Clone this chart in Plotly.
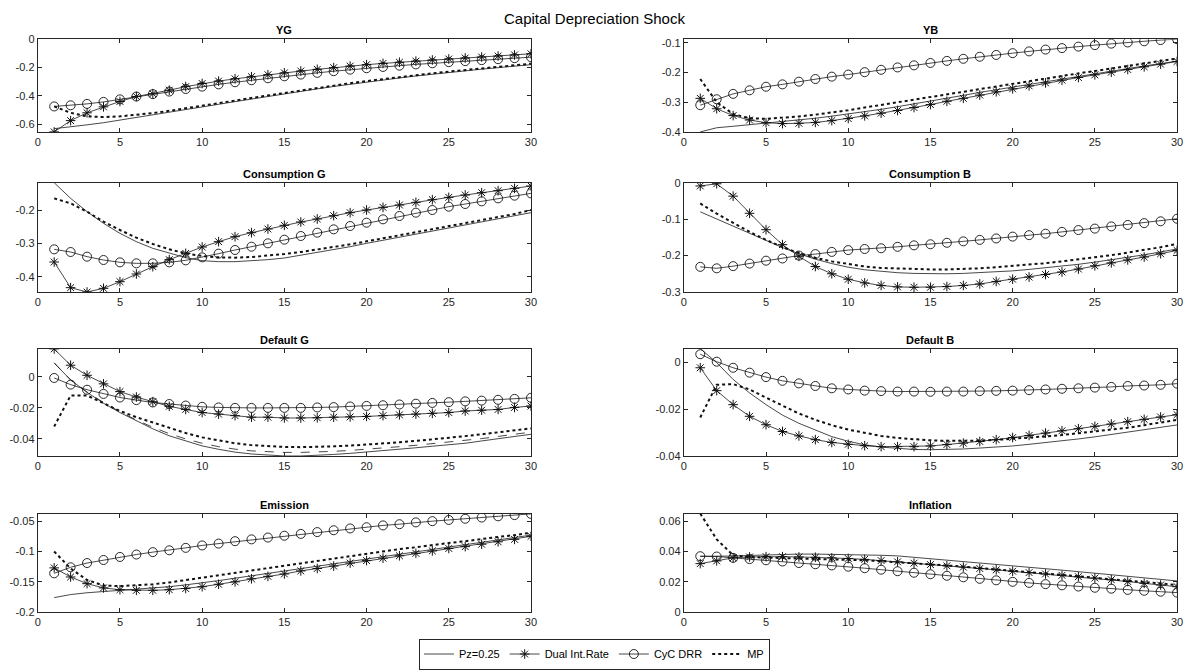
import plotly.graph_objects as go

x = list(range(1, 31))
series_names = ["Pz=0.25", "Dual Int.Rate", "CyC DRR", "MP"]
panel_titles = ["YG", "YB", "Consumption G", "Consumption B", "Default G", "Default B", "Emission", "Inflation"]

# ---- YG ----
yg_pz = [-0.632, -0.62, -0.605, -0.59, -0.572, -0.555, -0.537, -0.518, -0.499, -0.48, -0.46, -0.441, -0.422, -0.404, -0.386,
         -0.368, -0.351, -0.334, -0.318, -0.302, -0.288, -0.274, -0.26, -0.247, -0.235, -0.223, -0.212, -0.201, -0.19, -0.18]
yg_dual = [-0.655, -0.575, -0.52, -0.478, -0.44, -0.405, -0.385, -0.36, -0.335, -0.313, -0.296, -0.28, -0.265, -0.251, -0.238,
           -0.225, -0.213, -0.201, -0.19, -0.18, -0.171, -0.163, -0.155, -0.147, -0.14, -0.133, -0.126, -0.119, -0.111, -0.103]
yg_cyc = [-0.475, -0.467, -0.457, -0.443, -0.425, -0.405, -0.388, -0.37, -0.352, -0.335, -0.319, -0.304, -0.29, -0.276, -0.262,
          -0.25, -0.238, -0.226, -0.215, -0.205, -0.196, -0.187, -0.178, -0.17, -0.162, -0.155, -0.148, -0.141, -0.134, -0.127]
yg_mp = [-0.475, -0.52, -0.545, -0.55, -0.545, -0.535, -0.522, -0.506, -0.489, -0.471, -0.453, -0.434, -0.415, -0.397, -0.379,
         -0.361, -0.344, -0.327, -0.311, -0.296, -0.281, -0.267, -0.254, -0.241, -0.229, -0.217, -0.206, -0.195, -0.184, -0.173]

# ---- YB ----
yb_pz = [-0.4, -0.386, -0.381, -0.376, -0.371, -0.366, -0.36, -0.354, -0.347, -0.34, -0.332, -0.324, -0.315, -0.306, -0.297,
         -0.287, -0.277, -0.267, -0.258, -0.248, -0.239, -0.23, -0.221, -0.212, -0.203, -0.195, -0.186, -0.178, -0.17, -0.162]
yb_dual = [-0.287, -0.322, -0.345, -0.36, -0.369, -0.372, -0.371, -0.368, -0.362, -0.355, -0.346, -0.337, -0.328, -0.318, -0.308,
           -0.297, -0.287, -0.276, -0.265, -0.255, -0.245, -0.235, -0.226, -0.217, -0.208, -0.199, -0.19, -0.181, -0.172, -0.163]
yb_cyc = [-0.31, -0.29, -0.272, -0.26, -0.248, -0.24, -0.231, -0.222, -0.214, -0.207, -0.199, -0.191, -0.183, -0.176, -0.168,
          -0.161, -0.154, -0.147, -0.141, -0.135, -0.129, -0.123, -0.118, -0.113, -0.108, -0.103, -0.099, -0.095, -0.091, -0.088]
yb_mp = [-0.222, -0.3, -0.34, -0.354, -0.356, -0.353, -0.348, -0.342, -0.335, -0.327, -0.318, -0.309, -0.3, -0.291, -0.282,
         -0.273, -0.264, -0.255, -0.246, -0.237, -0.228, -0.22, -0.211, -0.203, -0.195, -0.186, -0.178, -0.17, -0.161, -0.153]

# ---- Consumption G ----
cg_pz = [-0.118, -0.165, -0.205, -0.24, -0.27, -0.295, -0.315, -0.33, -0.343, -0.352, -0.355, -0.355, -0.353, -0.349, -0.344,
         -0.336, -0.328, -0.319, -0.31, -0.3, -0.291, -0.282, -0.273, -0.263, -0.254, -0.245, -0.236, -0.227, -0.217, -0.208]
cg_dual = [-0.356, -0.433, -0.446, -0.435, -0.415, -0.392, -0.37, -0.349, -0.33, -0.311, -0.295, -0.28, -0.268, -0.257, -0.246,
           -0.236, -0.227, -0.217, -0.208, -0.2, -0.192, -0.185, -0.177, -0.169, -0.162, -0.155, -0.148, -0.142, -0.135, -0.128]
cg_cyc = [-0.318, -0.326, -0.34, -0.35, -0.357, -0.36, -0.36, -0.357, -0.351, -0.342, -0.331, -0.32, -0.31, -0.3, -0.289,
          -0.278, -0.268, -0.258, -0.248, -0.238, -0.228, -0.218, -0.208, -0.2, -0.19, -0.182, -0.174, -0.165, -0.157, -0.15]
cg_mp = [-0.165, -0.18, -0.205, -0.235, -0.26, -0.283, -0.302, -0.318, -0.33, -0.338, -0.342, -0.343, -0.341, -0.337, -0.332,
         -0.326, -0.319, -0.311, -0.303, -0.294, -0.285, -0.276, -0.267, -0.258, -0.249, -0.24, -0.231, -0.222, -0.212, -0.2]

# ---- Consumption B ----
cb_pz = [-0.08, -0.1, -0.12, -0.14, -0.16, -0.178, -0.195, -0.21, -0.222, -0.232, -0.239, -0.244, -0.247, -0.249, -0.25,
         -0.25, -0.249, -0.247, -0.245, -0.242, -0.238, -0.234, -0.229, -0.224, -0.218, -0.212, -0.205, -0.198, -0.19, -0.182]
cb_dual = [-0.009, -0.003, -0.037, -0.084, -0.129, -0.17, -0.202, -0.23, -0.25, -0.265, -0.275, -0.282, -0.286, -0.287, -0.287,
           -0.285, -0.282, -0.278, -0.271, -0.265, -0.259, -0.252, -0.245, -0.237, -0.228, -0.22, -0.212, -0.204, -0.195, -0.186]
cb_cyc = [-0.231, -0.235, -0.229, -0.222, -0.214, -0.208, -0.2, -0.196, -0.19, -0.185, -0.182, -0.18, -0.176, -0.172, -0.169,
          -0.165, -0.161, -0.157, -0.153, -0.148, -0.144, -0.14, -0.135, -0.13, -0.126, -0.12, -0.116, -0.111, -0.106, -0.099]
cb_mp = [-0.057, -0.085, -0.11, -0.135, -0.157, -0.177, -0.193, -0.206, -0.216, -0.224, -0.23, -0.234, -0.236, -0.238, -0.238,
         -0.238, -0.237, -0.235, -0.232, -0.229, -0.225, -0.221, -0.216, -0.211, -0.205, -0.199, -0.192, -0.185, -0.177, -0.168]

# ---- Default G ----
dg_pz = [0.009, -0.002, -0.01, -0.017, -0.023, -0.0285, -0.0335, -0.038, -0.0415, -0.0445, -0.0467, -0.0485, -0.0497, -0.0505, -0.051,
         -0.051, -0.0506, -0.05, -0.0493, -0.0485, -0.0476, -0.0467, -0.0457, -0.0447, -0.0438, -0.0428, -0.0413, -0.0399, -0.0385, -0.037]
dg_dual = [0.018, 0.0075, 0.001, -0.0045, -0.0095, -0.013, -0.016, -0.019, -0.021, -0.023, -0.024, -0.025, -0.026, -0.026, -0.0265,
           -0.0265, -0.0264, -0.026, -0.0258, -0.0255, -0.025, -0.0245, -0.024, -0.0235, -0.023, -0.022, -0.0215, -0.021, -0.0197, -0.0188]
dg_cyc = [-0.0007, -0.005, -0.0083, -0.011, -0.0133, -0.015, -0.0165, -0.0175, -0.0185, -0.0193, -0.0197, -0.02, -0.02, -0.02, -0.02,
          -0.02, -0.0197, -0.0195, -0.0191, -0.0187, -0.0183, -0.0178, -0.0173, -0.0168, -0.0163, -0.0158, -0.0153, -0.0148, -0.0142, -0.0135]
dg_mp = [-0.032, -0.012, -0.012, -0.017, -0.022, -0.026, -0.0295, -0.033, -0.0362, -0.039, -0.041, -0.0428, -0.044, -0.0448, -0.0452,
         -0.0453, -0.0452, -0.0448, -0.0443, -0.0437, -0.043, -0.0422, -0.0413, -0.0404, -0.0394, -0.0382, -0.037, -0.0358, -0.0345, -0.0332]
dg_extra = [0.009, -0.002, -0.0098, -0.0165, -0.0225, -0.0278, -0.0325, -0.0366, -0.04, -0.0428, -0.045, -0.0466, -0.0477, -0.0484, -0.0487,
            -0.0487, -0.0485, -0.048, -0.0474, -0.0467, -0.0459, -0.045, -0.0441, -0.0431, -0.0421, -0.0412, -0.0398, -0.0384, -0.037, -0.0356]

# ---- Default B ----
db_pz = [0.006, 0.0, -0.0072, -0.013, -0.018, -0.0225, -0.026, -0.029, -0.0317, -0.0337, -0.0352, -0.0362, -0.0368, -0.0372, -0.0373,
         -0.0372, -0.037, -0.0366, -0.0362, -0.0357, -0.035, -0.0343, -0.0335, -0.0327, -0.0318, -0.0308, -0.0298, -0.0288, -0.0278, -0.0267]
db_dual = [-0.0022, -0.012, -0.018, -0.023, -0.0266, -0.0295, -0.0314, -0.033, -0.0342, -0.035, -0.0356, -0.036, -0.036, -0.036, -0.0357,
           -0.0351, -0.0345, -0.0338, -0.033, -0.0321, -0.0312, -0.0302, -0.0292, -0.0283, -0.0273, -0.0263, -0.0253, -0.0243, -0.0233, -0.0223]
db_cyc = [0.0036, 0.0004, -0.0022, -0.0043, -0.0062, -0.0078, -0.0089, -0.01, -0.011, -0.0115, -0.012, -0.0122, -0.0124, -0.0124, -0.0125,
          -0.0124, -0.0124, -0.0122, -0.0121, -0.012, -0.0118, -0.0115, -0.0112, -0.011, -0.0107, -0.0104, -0.01, -0.0098, -0.0095, -0.009]
db_mp = [-0.0235, -0.0095, -0.0092, -0.0115, -0.015, -0.0185, -0.0218, -0.0245, -0.0268, -0.0287, -0.0302, -0.0314, -0.0323, -0.0329, -0.0333,
         -0.0335, -0.0335, -0.0334, -0.0331, -0.0327, -0.0322, -0.0316, -0.031, -0.0303, -0.0296, -0.0289, -0.0279, -0.0268, -0.0257, -0.0245]

# ---- Emission ----
em_pz = [-0.176, -0.171, -0.168, -0.166, -0.165, -0.163, -0.161, -0.158, -0.155, -0.152, -0.148, -0.144, -0.14, -0.136, -0.132,
         -0.128, -0.124, -0.12, -0.116, -0.112, -0.108, -0.104, -0.1, -0.096, -0.092, -0.088, -0.085, -0.081, -0.077, -0.073]
em_dual = [-0.127, -0.142, -0.153, -0.16, -0.163, -0.164, -0.164, -0.163, -0.161, -0.158, -0.154, -0.15, -0.145, -0.141, -0.137,
           -0.132, -0.128, -0.124, -0.119, -0.115, -0.111, -0.107, -0.103, -0.099, -0.095, -0.092, -0.088, -0.084, -0.08, -0.075]
em_cyc = [-0.136, -0.126, -0.119, -0.114, -0.109, -0.105, -0.101, -0.098, -0.094, -0.09, -0.087, -0.083, -0.08, -0.077, -0.074,
          -0.071, -0.068, -0.065, -0.062, -0.06, -0.057, -0.055, -0.052, -0.05, -0.048, -0.046, -0.044, -0.042, -0.04, -0.038]
em_mp = [-0.1, -0.128, -0.147, -0.156, -0.157, -0.156, -0.154, -0.151, -0.147, -0.143, -0.139, -0.135, -0.131, -0.127, -0.123,
         -0.119, -0.115, -0.111, -0.107, -0.103, -0.1, -0.096, -0.093, -0.089, -0.086, -0.083, -0.079, -0.076, -0.073, -0.069]

# ---- Inflation ----
in_pz = [0.0368, 0.0368, 0.037, 0.0374, 0.0378, 0.0381, 0.0383, 0.0383, 0.0382, 0.038, 0.0378, 0.0375, 0.0371, 0.0362, 0.0353,
         0.0344, 0.0335, 0.0325, 0.0316, 0.0306, 0.0297, 0.0287, 0.0277, 0.0267, 0.0257, 0.0247, 0.0237, 0.0227, 0.0217, 0.0206]
in_dual = [0.032, 0.0338, 0.0358, 0.0364, 0.0366, 0.0366, 0.0364, 0.0362, 0.0358, 0.0354, 0.0348, 0.034, 0.0332, 0.0323, 0.0314,
           0.0306, 0.0297, 0.0288, 0.0279, 0.027, 0.0261, 0.0252, 0.0243, 0.0234, 0.0225, 0.0214, 0.0202, 0.019, 0.0179, 0.0168]
in_cyc = [0.0369, 0.0367, 0.0358, 0.035, 0.0342, 0.0334, 0.0324, 0.0316, 0.0308, 0.03, 0.029, 0.028, 0.027, 0.026, 0.025,
          0.024, 0.023, 0.022, 0.021, 0.02, 0.0193, 0.0185, 0.0177, 0.0169, 0.0161, 0.0155, 0.0147, 0.0141, 0.0135, 0.0129]
in_mp = [0.065, 0.048, 0.0375, 0.0363, 0.036, 0.0357, 0.0355, 0.0353, 0.035, 0.0347, 0.0342, 0.0336, 0.033, 0.0323, 0.0316,
         0.0308, 0.03, 0.0291, 0.0283, 0.0274, 0.0265, 0.0256, 0.0247, 0.0238, 0.0229, 0.022, 0.021, 0.02, 0.019, 0.0178]

panels = [
    (yg_pz, yg_dual, yg_cyc, yg_mp),
    (yb_pz, yb_dual, yb_cyc, yb_mp),
    (cg_pz, cg_dual, cg_cyc, cg_mp),
    (cb_pz, cb_dual, cb_cyc, cb_mp),
    (dg_pz, dg_dual, dg_cyc, dg_mp),
    (db_pz, db_dual, db_cyc, db_mp),
    (em_pz, em_dual, em_cyc, em_mp),
    (in_pz, in_dual, in_cyc, in_mp),
]
y_ranges = [[-0.655, 0], [-0.4, -0.088], [-0.446, -0.118], [-0.3, 0],
            [-0.051, 0.0182], [-0.04, 0.006], [-0.2, -0.0375], [0, 0.065]]
y_ticks = [[0, -0.2, -0.4, -0.6], [-0.1, -0.2, -0.3, -0.4], [-0.2, -0.3, -0.4], [0, -0.1, -0.2, -0.3],
           [0, -0.02, -0.04], [0, -0.02, -0.04], [-0.05, -0.1, -0.15, -0.2], [0, 0.02, 0.04, 0.06]]
x_ticks = [0, 5, 10, 15, 20, 25, 30]

W, H = 1192, 670
col_px = [(35, 532), (686, 1183)]
row_px = [(34, 129), (181, 293), (351, 461), (520, 621)]

INK = "#262626"
FONT = "Liberation Sans, Arial, Helvetica, sans-serif"

fig = go.Figure()
layout = dict()
annotations = []
for i in range(8):
    r, c = divmod(i, 2)
    n = i + 1
    xa = "x" if n == 1 else f"x{n}"
    ya = "y" if n == 1 else f"y{n}"
    xk = "xaxis" if n == 1 else f"xaxis{n}"
    yk = "yaxis" if n == 1 else f"yaxis{n}"
    xd = [col_px[c][0] / W, col_px[c][1] / W]
    yd = [1 - row_px[r][1] / H, 1 - row_px[r][0] / H]
    common = dict(showline=True, linecolor=INK, linewidth=1, mirror="ticks", ticks="inside",
                  ticklen=4, tickcolor=INK, tickwidth=1, showgrid=False, zeroline=False,
                  tickfont=dict(family=FONT, size=11, color=INK))
    layout[xk] = dict(domain=xd, anchor=ya, range=[0, 30], tickvals=x_ticks,
                      ticktext=[str(t) for t in x_ticks], **common)
    layout[yk] = dict(domain=yd, anchor=xa, range=y_ranges[i], tickvals=y_ticks[i],
                      ticktext=[f"{t:g}" for t in y_ticks[i]], **common)
    pz, dual, cyc, mp = panels[i]
    show = (i == 0)
    fig.add_trace(go.Scatter(x=x, y=pz, mode="lines", name=series_names[0], legendgroup="a", showlegend=show,
                             line=dict(color="#1a1a1a", width=0.8), xaxis=xa, yaxis=ya))
    fig.add_trace(go.Scatter(x=x, y=dual, mode="lines+markers", name=series_names[1], legendgroup="b", showlegend=show,
                             line=dict(color="#1a1a1a", width=0.8),
                             marker=dict(symbol="asterisk-open", size=8, color="#111111", line=dict(width=1, color="#111111")),
                             xaxis=xa, yaxis=ya))
    fig.add_trace(go.Scatter(x=x, y=cyc, mode="lines+markers", name=series_names[2], legendgroup="c", showlegend=show,
                             line=dict(color="#1a1a1a", width=0.8),
                             marker=dict(symbol="circle-open", size=9, color="#111111", line=dict(width=0.9, color="#111111")),
                             xaxis=xa, yaxis=ya))
    fig.add_trace(go.Scatter(x=x, y=mp, mode="lines", name=series_names[3], legendgroup="d", showlegend=show,
                             line=dict(color="#111111", width=2, dash="dot"), xaxis=xa, yaxis=ya))
    if i == 4:
        fig.add_trace(go.Scatter(x=x, y=dg_extra, mode="lines", showlegend=False,
                                 line=dict(color="#1a1a1a", width=0.8, dash="dash"), xaxis=xa, yaxis=ya))
    annotations.append(dict(text=f"<b>{panel_titles[i]}</b>", x=(xd[0] + xd[1]) / 2, y=yd[1],
                            xref="paper", yref="paper", xanchor="center", yanchor="bottom", yshift=1,
                            showarrow=False, font=dict(family=FONT, size=11, color="black")))

annotations.append(dict(text="Capital Depreciation Shock", x=0.5, y=1 - 13 / H, xref="paper", yref="paper",
                        xanchor="center", yanchor="middle", showarrow=False,
                        font=dict(family=FONT, size=15, color="black")))

fig.update_layout(
    width=W, height=H, margin=dict(l=0, r=0, t=0, b=0),
    paper_bgcolor="white", plot_bgcolor="white",
    annotations=annotations,
    legend=dict(orientation="h", x=0.5, xanchor="center", y=1 - 648 / H, yanchor="top",
                bordercolor=INK, borderwidth=1, bgcolor="white",
                font=dict(family=FONT, size=11, color="black"), itemwidth=30,
                tracegroupgap=0),
    **layout,
)

fig.write_html("out.html", config={"displayModeBar": False},
               post_script="document.body.style.margin='0px';document.body.style.padding='0px';"
                           "document.documentElement.style.overflow='hidden';")
